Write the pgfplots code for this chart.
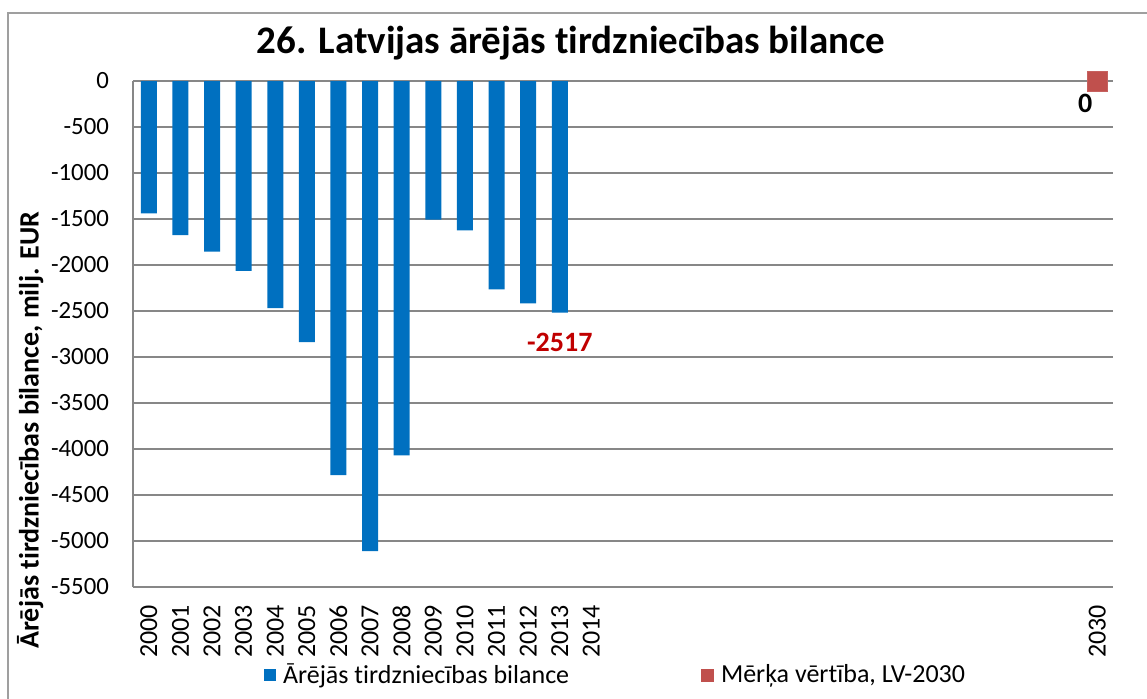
\documentclass[border=0pt]{standalone}
\usepackage{pgfplots}
\pgfplotsset{compat=1.18}
\usepackage{fontspec}
\setmainfont{Carlito}[Ligatures={NoCommon}]
\definecolor{barblue}{HTML}{0070C0}
\definecolor{tgtred}{HTML}{C0504D}
\definecolor{lblred}{HTML}{C00000}
\definecolor{gridgray}{HTML}{878787}
\newcommand{\tickfont}{\fontsize{12.4}{14}\selectfont}
\begin{document}
\begin{tikzpicture}[x=0.5pt,y=0.5pt]
\useasboundingbox (-133,-111) rectangle (1014,587);
\draw[gridgray!80, line width=0.6pt] (-125,-130) -- (-125,574) -- (1030,574);
\begin{axis}[
  at={(0,0)}, anchor=south west, scale only axis,
  width=490pt, height=253pt,
  xmin=1999.5, xmax=2030.5, ymin=-5500, ymax=0,
  clip=false,
  xtick={2000,2001,2002,2003,2004,2005,2006,2007,2008,2009,2010,2011,2012,2013,2014,2030},
  xticklabels={2000,2001,2002,2003,2004,2005,2006,2007,2008,2009,2010,2011,2012,2013,2014,2030},
  ytick={-5500,-5000,-4500,-4000,-3500,-3000,-2500,-2000,-1500,-1000,-500,0},
  yticklabels={-5500,-5000,-4500,-4000,-3500,-3000,-2500,-2000,-1500,-1000,-500,0},
  ymajorgrids, grid style={gridgray, line width=0.75pt},
  axis x line*=bottom, axis y line*=left,
  axis line style={gridgray, line width=0.75pt, -},
  major tick length=0pt,
  x tick label style={rotate=90, anchor=east, font=\fontsize{13}{15}\selectfont, xshift=-5.5pt},
  y tick label style={font=\tickfont, xshift=-8.5pt},
  ylabel={Ārējās tirdzniecības bilance, milj. EUR},
  ylabel style={at={(rel axis cs:-0.105,0.31)}, rotate=0, anchor=center, font=\bfseries\fontsize{14}{16}\selectfont},
  title={26. Latvijas ārējās tirdzniecības bilance},
  title style={at={(rel axis cs:0.447,1.051)}, anchor=center, font=\bfseries\fontsize{19.5}{22}\selectfont},
  legend style={at={(rel axis cs:0.4934,-0.1739)}, anchor=center, draw=none, fill=none,
    legend columns=2, font=\fontsize{13}{15}\selectfont,
    /tikz/every even column/.append style={column sep=64pt}},
]
\addplot+[ybar, bar width=8pt, fill=barblue, draw=none, mark=none,
  legend image code/.code={\fill[barblue] (0pt,-3pt) rectangle (6pt,3pt); \path (7.5pt,0pt);}]
  coordinates {
  (2000,-1438) (2001,-1675) (2002,-1855) (2003,-2063) (2004,-2470)
  (2005,-2838) (2006,-4284) (2007,-5110) (2008,-4070) (2009,-1506)
  (2010,-1624) (2011,-2265) (2012,-2417) (2013,-2517)
  };
\addlegendentry{Ārējās tirdzniecības bilance}
\addplot+[only marks, mark=square*, mark size=5pt, mark options={fill=tgtred, draw=tgtred!90!white},
  legend image code/.code={\fill[tgtred] (0pt,-3pt) rectangle (6pt,3pt); \path (7.5pt,0pt);}]
  coordinates {(2030,0)};
\addlegendentry{Mērķa vērtība, LV-2030}
\node[lblred, font=\bfseries\fontsize{14}{16}\selectfont, anchor=center, yshift=-15pt] at (axis cs:2013,-2517) {-2517};
\node[black, font=\bfseries\fontsize{14}{16}\selectfont, anchor=center, xshift=-6pt, yshift=-11pt] at (axis cs:2030,0) {0};
\end{axis}
\end{tikzpicture}
\end{document}
